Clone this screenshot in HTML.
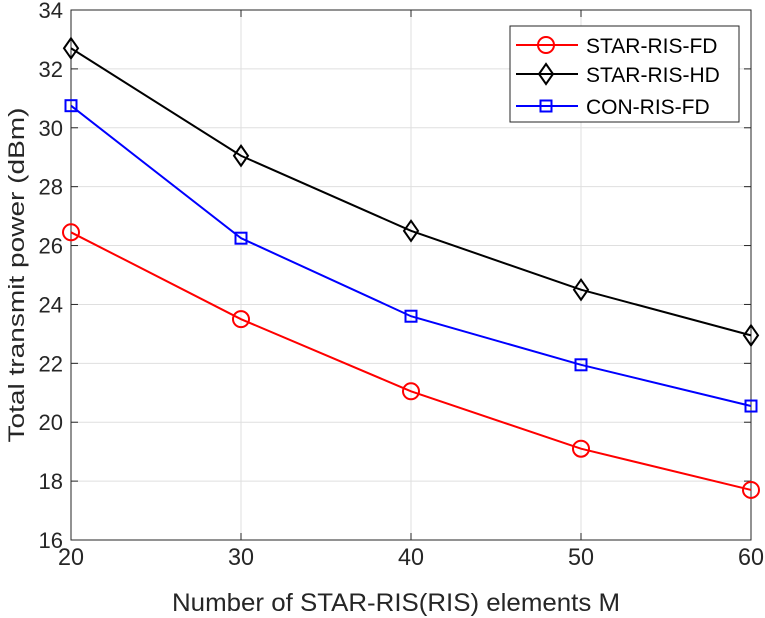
<!DOCTYPE html>
<html><head><meta charset="utf-8"><style>
body{margin:0;background:#fff;}
svg{display:block;font-family:"Liberation Sans",Arial,sans-serif;}
</style></head><body>
<svg id="chart" width="765" height="618"></svg>
<script>
const categories=[20,30,40,50,60];
const fdValues=[26.45,23.5,21.05,19.1,17.7];
const hdValues=[32.7,29.05,26.5,24.5,22.95];
const conValues=[30.75,26.25,23.6,21.95,20.55];
const xTicks=[20,30,40,50,60];
const yTicks=[16,18,20,22,24,26,28,30,32,34];
const seriesNames=["STAR-RIS-FD","STAR-RIS-HD","CON-RIS-FD"];

const NS="http://www.w3.org/2000/svg";
const svg=document.getElementById('chart');
const L=71,R=751,T=10,B=540;
const xs=v=>L+(v-20)/(60-20)*(R-L);
const ys=v=>B-(v-16)/(34-16)*(B-T);
function mk(tag,attrs,parent){const e=document.createElementNS(NS,tag);for(const k in attrs)e.setAttribute(k,attrs[k]);(parent||svg).appendChild(e);return e;}

const grid=mk('g',{});


xTicks.forEach(t=>mk('line',{x1:xs(t),x2:xs(t),y1:T,y2:B,stroke:'#dfdfdf','stroke-width':1},grid));
yTicks.forEach(t=>mk('line',{x1:L,x2:R,y1:ys(t),y2:ys(t),stroke:'#dfdfdf','stroke-width':1},grid));

const axes=mk('g',{});


mk('rect',{x:L,y:T,width:R-L,height:B-T,fill:'none',stroke:'#262626','stroke-width':1},axes);
xTicks.forEach(t=>{
  mk('line',{x1:xs(t),x2:xs(t),y1:B,y2:B-7,stroke:'#262626'},axes);
  mk('line',{x1:xs(t),x2:xs(t),y1:T,y2:T+7,stroke:'#262626'},axes);
  const tx=mk('text',{x:xs(t),y:B+25,'text-anchor':'middle','font-size':24,fill:'#262626',textLength:26,lengthAdjust:'spacingAndGlyphs'},axes);
  tx.textContent=t;
  
  
});
yTicks.forEach(t=>{
  mk('line',{x1:L,x2:L+7,y1:ys(t),y2:ys(t),stroke:'#262626'},axes);
  mk('line',{x1:R,x2:R-7,y1:ys(t),y2:ys(t),stroke:'#262626'},axes);
  const tx=mk('text',{x:L-8,y:ys(t)+8,'text-anchor':'end','font-size':22,fill:'#262626'},axes);
  tx.textContent=t;
  
  
});
const xt=mk('text',{x:(L+R)/2-15,y:611,'text-anchor':'middle','font-size':25,fill:'#262626',textLength:448,lengthAdjust:'spacingAndGlyphs'});
xt.textContent='Number of STAR-RIS(RIS) elements M';


const yt=mk('text',{x:0,y:0,'text-anchor':'middle','font-size':22,fill:'#262626',textLength:335,lengthAdjust:'spacingAndGlyphs',transform:`translate(24,275) rotate(-90)`});
yt.textContent='Total transmit power (dBm)';



function marker(g,type,x,y,color){
  if(type==='circle')mk('circle',{cx:x,cy:y,r:8,fill:'none',stroke:color,'stroke-width':2},g);
  else if(type==='diamond')mk('polygon',{points:`${x},${y-10} ${x+7},${y} ${x},${y+10} ${x-7},${y}`,fill:'none',stroke:color,'stroke-width':2},g);
  else mk('rect',{x:x-5.5,y:y-5.5,width:11,height:11,fill:'none',stroke:color,'stroke-width':2},g);
}
const series=[[fdValues,'#ff0000','circle','series-star-ris-fd'],[hdValues,'#000000','diamond','series-star-ris-hd'],[conValues,'#0000ff','square','series-con-ris-fd']];
series.forEach(([vals,color,type,name])=>{
  const g=mk('g',{});
  
  
  mk('polyline',{points:vals.map((v,i)=>xs(categories[i])+','+ys(v)).join(' '),fill:'none',stroke:color,'stroke-width':2},g);
  vals.forEach((v,i)=>marker(g,type,xs(categories[i]),ys(v),color));
});

const lg=mk('g',{});


mk('rect',{x:510,y:26,width:229,height:96,fill:'#fff',stroke:'#262626','stroke-width':1},lg);
const rowY=[45,74,106];
series.forEach(([vals,color,type],i)=>{
  const y=rowY[i];
  const e=mk('g',{},lg);
  
  
  mk('line',{x1:516,x2:578,y1:y,y2:y,stroke:color,'stroke-width':2},e);
  marker(e,type,546,y,color);
  const t=mk('text',{x:586,y:y+8,'font-size':21,fill:'#000'},e);
  t.textContent=seriesNames[i];
});
</script>
</body></html>
